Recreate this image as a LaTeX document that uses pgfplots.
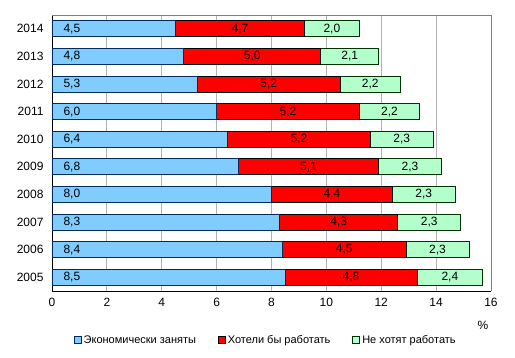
\documentclass[border=0pt]{standalone}
\usepackage{pgfplots}
\pgfplotsset{compat=1.18}
\usepackage{pgfplotstable}
\usepackage{fontspec}
\setmainfont{Liberation Sans}
\definecolor{cblue}{HTML}{80CCFF}
\definecolor{cbluedark}{HTML}{002A5C}
\definecolor{cred}{HTML}{FF0000}
\definecolor{cgreen}{HTML}{B3FFCC}
\definecolor{cgreendark}{HTML}{003300}
\pgfplotstableread{
year a b c
2005 8.5 4.8 2.4
2006 8.4 4.5 2.3
2007 8.3 4.3 2.3
2008 8.0 4.4 2.3
2009 6.8 5.1 2.3
2010 6.4 5.2 2.3
2011 6.0 5.2 2.2
2012 5.3 5.2 2.2
2013 4.8 5.0 2.1
2014 4.5 4.7 2.0
}\data
\begin{document}
\begin{tikzpicture}
\path[use as bounding box] (0pt,0pt) rectangle (515pt,357pt);
\begin{axis}[
  at={(52pt,66pt)}, anchor=south west, scale only axis,
  width=439pt, height=276pt,
  xbar stacked, bar width=16pt,
  xmin=0, xmax=16, xtick={0,2,...,16},
  ymin=-0.5, ymax=9.5, ytick={0,...,9},
  yticklabels={2005,2006,2007,2008,2009,2010,2011,2012,2013,2014},
  /pgf/number format/assume math mode=true,
  tick label style={font=\fontsize{12}{14}\selectfont},
  xticklabel style={yshift=-4pt},
  yticklabel style={xshift=-5pt},
  major tick length=0pt,
  axis line style={draw=none},
  xmajorgrids, grid style={color=black!30, line width=0.8pt},
  legend columns=3,
  legend style={draw=none, font=\fontsize{11}{13}\selectfont,
    at={(rel axis cs:0.487,-0.1775)}, anchor=center,
    /tikz/every even column/.append style={column sep=20pt}},
  legend image code/.code={\draw[#1] (0pt,-3.5pt) rectangle (7pt,3.5pt);},
  clip=false,
  lbl/.style={point meta=explicit,
    nodes near coords={\pgfmathprintnumber[fixed,fixed zerofill,precision=1,use comma]{\pgfplotspointmeta}},
    every node near coord/.append style={font=\fontsize{12}{14}\selectfont, text=black, anchor=center}},
]
\addplot[fill=cblue, draw=cbluedark, line width=0.8pt]
  table[x=a, y expr=\coordindex] \data;
\addplot[fill=cred, draw=black, line width=0.8pt, lbl]
  table[x=b, y expr=\coordindex, meta=b] \data;
\addplot[fill=cgreen, draw=cgreendark, line width=0.8pt, lbl]
  table[x=c, y expr=\coordindex, meta=c] \data;
\legend{Экономически заняты, Хотели бы работать, Не хотят работать}
\addplot[lbl, forget plot, stack plots=false, draw=none, fill=none,
  every node near coord/.append style={anchor=west, xshift=8pt}]
  table[x expr=0, y expr=\coordindex, meta=a] \data;
\draw[black!50, line width=0.8pt] (rel axis cs:0,1) -- (rel axis cs:1,1) -- (rel axis cs:1,0);
\draw[black, line width=0.8pt] (rel axis cs:0,1) -- (rel axis cs:0,0) -- (rel axis cs:1,0);
\end{axis}
\node[font=\fontsize{12}{14}\selectfont] at (483pt,32pt) {\%};
\end{tikzpicture}
\end{document}
